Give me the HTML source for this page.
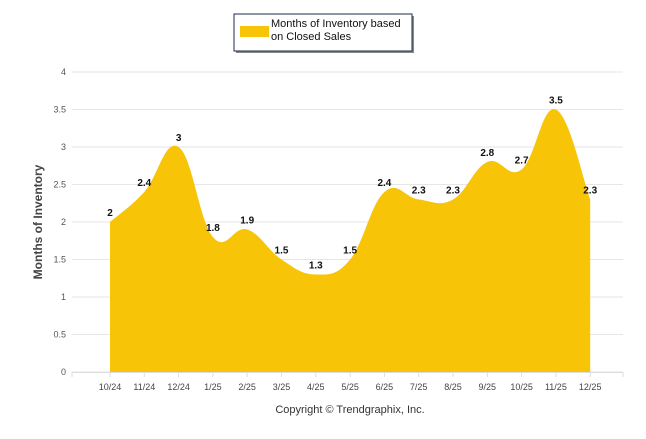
<!DOCTYPE html>
<html><head><meta charset="utf-8"><style>
body{margin:0;background:#fff;font-family:"Liberation Sans",Arial,sans-serif}
</style></head><body>
<svg id="c" width="646" height="434" xmlns="http://www.w3.org/2000/svg"></svg>
<script>
const categories=["10/24","11/24","12/24","1/25","2/25","3/25","4/25","5/25","6/25","7/25","8/25","9/25","10/25","11/25","12/25"];
const values=[2,2.4,3,1.8,1.9,1.5,1.3,1.5,2.4,2.3,2.3,2.8,2.7,3.5,2.3];
const yTicks=[0,0.5,1,1.5,2,2.5,3,3.5,4];
const yTickLabels=["0","0.5","1","1.5","2","2.5","3","3.5","4"];
const svg=document.getElementById('c');
const NS="http://www.w3.org/2000/svg";
const x0=110,step=34.3,left=72,right=623;
const xs=i=>x0+i*step;
const ys=v=>372-v*75;
function mk(t,a,p){const e=document.createElementNS(NS,t);for(const k in a)e.setAttribute(k,a[k]);(p||svg).appendChild(e);return e;}
// grid
yTicks.forEach((v,i)=>{
 const g=mk('line',{x1:left,x2:right,y1:ys(v),y2:ys(v),stroke:'#e6e6e6','stroke-width':1});
 
 
 const t=mk('text',{x:66,y:ys(v)+3,'text-anchor':'end','font-size':9,fill:'#555'});
 t.textContent=yTickLabels[i];
 
 
});
// area
const pts=values.map((v,i)=>[xs(i),ys(v)]);
let d=`M${pts[0][0]},${ys(0)}L${pts[0][0]},${pts[0][1]}`;
for(let i=0;i<pts.length-1;i++){
 const p0=pts[Math.max(0,i-1)],p1=pts[i],p2=pts[i+1],p3=pts[Math.min(pts.length-1,i+2)];
 const k=0.2;
 const c1=[p1[0]+(p2[0]-p0[0])*k,p1[1]+(p2[1]-p0[1])*k];
 const c2=[p2[0]-(p3[0]-p1[0])*k,p2[1]-(p3[1]-p1[1])*k];
 d+=`C${c1[0]},${c1[1]} ${c2[0]},${c2[1]} ${p2[0]},${p2[1]}`;
}
d+=`L${pts[pts.length-1][0]},${ys(0)}Z`;
const area=mk('path',{d:d,fill:'#f7c408'});


// x axis
const ax=mk('line',{x1:left,x2:right,y1:ys(0)+0.5,y2:ys(0)+0.5,stroke:'#ddd'});


categories.forEach((c,i)=>{
 const tk=mk('line',{x1:xs(i),x2:xs(i),y1:ys(0),y2:ys(0)+5,stroke:'#ddd'});
 
 
 const t=mk('text',{x:xs(i),y:390,'text-anchor':'middle','font-size':9,fill:'#444'});
 t.textContent=c;
 
 
 const l=mk('text',{x:xs(i),y:ys(values[i])-6,'text-anchor':'middle','font-size':10,'font-weight':'bold',fill:'#111'});
 l.textContent=String(values[i]);
 
 
});
[left,right].forEach(x=>{mk('line',{x1:x,x2:x,y1:ys(0),y2:ys(0)+5,stroke:'#ddd'});});
const yt=mk('text',{transform:'translate(42,222) rotate(-90)','text-anchor':'middle','font-size':12,'font-weight':'bold',fill:'#444'});
yt.textContent='Months of Inventory';


const cp=mk('text',{x:350,y:413,'text-anchor':'middle','font-size':11,fill:'#333'});
cp.textContent='Copyright © Trendgraphix, Inc.';


// legend
const lg=mk('g',{});


mk('rect',{x:236,y:16,width:178,height:37,fill:'#888'},lg);
mk('rect',{x:234,y:14,width:178,height:37,fill:'#fff',stroke:'#1c2a4a'},lg);
mk('rect',{x:240,y:26,width:29,height:11,fill:'#f7c408'},lg);
const t1=mk('text',{x:271,y:27,'font-size':11,fill:'#111'},lg);t1.textContent='Months of Inventory based';
const t2=mk('text',{x:271,y:40,'font-size':11,fill:'#111'},lg);t2.textContent='on Closed Sales';
</script>
</body></html>
